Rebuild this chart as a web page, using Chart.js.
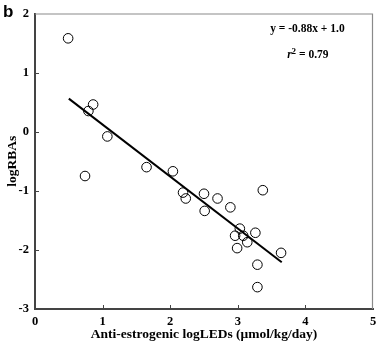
<!DOCTYPE html>
<html>
<head>
<meta charset="utf-8">
<script src="https://cdn.jsdelivr.net/npm/chart.js@4"></script>
<style>
  html, body { margin: 0; padding: 0; background: #fff; }
</style>
</head>
<body>
<canvas id="grafico" width="385" height="344"></canvas>
<script>
// anti-estrogenic logLED vs logRBA, one entry per compound
const logLED = [0.49, 0.86, 0.79, 1.07, 0.74, 1.65, 2.04, 2.19, 2.23, 2.50, 2.51, 2.70,
                2.89, 3.37, 3.03, 3.26, 2.96, 3.08, 3.14, 2.99, 3.64, 3.29, 3.29];
const logRBA = [1.58, 0.46, 0.35, -0.08, -0.75, -0.60, -0.67, -1.03, -1.13, -1.05, -1.34, -1.13,
                -1.28, -0.99, -1.64, -1.71, -1.76, -1.76, -1.87, -1.97, -2.05, -2.25, -2.63];

// regression line endpoints (y = -0.88x + 1.0)
const fitX = [0.5, 3.65];
const fitY = [0.56, -2.21];

const xTicks = [0, 1, 2, 3, 4, 5];
const yTicks = [-3, -2, -1, 0, 1, 2];

const serif = 'Liberation Serif, Times New Roman, serif';

const marcoYTicks = {
  id: 'marcoYTicks',
  afterDraw(chart) {
    const ctx = chart.ctx;
    const a = chart.chartArea;
    const sx = chart.scales.x;
    const sy = chart.scales.y;
    ctx.save();
    // top and right frame
    ctx.strokeStyle = '#8a8a8a';
    ctx.lineWidth = 1.2;
    ctx.beginPath();
    ctx.moveTo(a.left, a.top + 0.5);
    ctx.lineTo(a.right - 0.5, a.top + 0.5);
    ctx.lineTo(a.right - 0.5, a.bottom);
    ctx.stroke();

    // short inward ticks
    ctx.strokeStyle = '#444';
    ctx.lineWidth = 1;
    ctx.beginPath();
    xTicks.slice(1, -1).forEach(v => {
      const px = Math.round(sx.getPixelForValue(v)) + 0.5;
      ctx.moveTo(px, a.bottom);
      ctx.lineTo(px, a.bottom - 4);
    });
    yTicks.slice(1, -1).forEach(v => {
      const py = Math.round(sy.getPixelForValue(v)) + 0.5;
      ctx.moveTo(a.left, py);
      ctx.lineTo(a.left + 4, py);
    });
    ctx.stroke();

    // fit equation
    ctx.fillStyle = '#000';
    ctx.textAlign = 'center';
    ctx.textBaseline = 'middle';
    ctx.font = 'bold 11.5px ' + serif;
    ctx.fillText('y = -0.88x + 1.0', sx.getPixelForValue(4.03), sy.getPixelForValue(1.74));

    const rx = sx.getPixelForValue(3.73);
    const ry = sy.getPixelForValue(1.29);
    ctx.textAlign = 'left';
    ctx.font = 'bold italic 11.5px ' + serif;
    ctx.fillText('r', rx, ry);
    let w = ctx.measureText('r').width;
    ctx.font = 'bold 9px ' + serif;
    ctx.fillText('2', rx + w, ry - 4);
    w += ctx.measureText('2').width;
    ctx.font = 'bold 11.5px ' + serif;
    ctx.fillText(' = 0.79', rx + w, ry);

    // panel letter
    ctx.font = 'bold 17px Liberation Sans, Arial, sans-serif';
    ctx.textAlign = 'left';
    ctx.textBaseline = 'alphabetic';
    ctx.fillText('b', 3, 17);
    ctx.restore();
  }
};

const ctx = document.getElementById('grafico').getContext('2d');
new Chart(ctx, {
  type: 'scatter',
  data: {
    datasets: [{
      label: 'ajuste',
      type: 'line',
      data: fitX.map((x, i) => ({ x: x, y: fitY[i] })),
      borderColor: '#000',
      borderWidth: 2,
      pointRadius: 0,
      fill: false,
      tension: 0
    }, {
      label: 'compuestos',
      data: logLED.map((x, i) => ({ x: x, y: logRBA[i] })),
      pointRadius: 4.8,
      pointBorderWidth: 1,
      borderColor: '#000',
      backgroundColor: 'rgba(255,255,255,0)'
    }]
  },
  options: {
    responsive: false,
    animation: false,
    devicePixelRatio: 1,
    layout: { padding: { top: 6, right: 12, left: 0, bottom: 0 } },
    plugins: {
      legend: { display: false },
      tooltip: { enabled: false }
    },
    scales: {
      x: {
        type: 'linear',
        min: 0,
        max: 5,
        afterFit(scale) { scale.height = 35; },
        afterBuildTicks(scale) { scale.ticks = xTicks.map(v => ({ value: v })); },
        ticks: {
          color: '#000',
          padding: 5,
          font: { family: serif, weight: 'bold', size: 12.5 }
        },
        grid: { display: false, drawTicks: false },
        border: { display: true, color: '#444', width: 2 },
        title: {
          display: true,
          text: 'Anti-estrogenic logLEDs (μmol/kg/day)',
          color: '#000',
          padding: { top: 0, bottom: 1 },
          font: { family: serif, weight: 'bold', size: 13.5 }
        }
      },
      y: {
        type: 'linear',
        min: -3,
        max: 2,
        afterFit(scale) { scale.width = 35; },
        afterBuildTicks(scale) { scale.ticks = yTicks.map(v => ({ value: v })); },
        ticks: {
          color: '#000',
          padding: 6,
          font: { family: serif, weight: 'bold', size: 12.5 }
        },
        grid: { display: false, drawTicks: false },
        border: { display: true, color: '#444', width: 2 },
        title: {
          display: true,
          text: 'logRBAs',
          color: '#000',
          padding: { top: 4, bottom: 0 },
          font: { family: serif, weight: 'bold', size: 13.5 }
        }
      }
    }
  },
  plugins: [marcoYTicks]
});
</script>
</body>
</html>
